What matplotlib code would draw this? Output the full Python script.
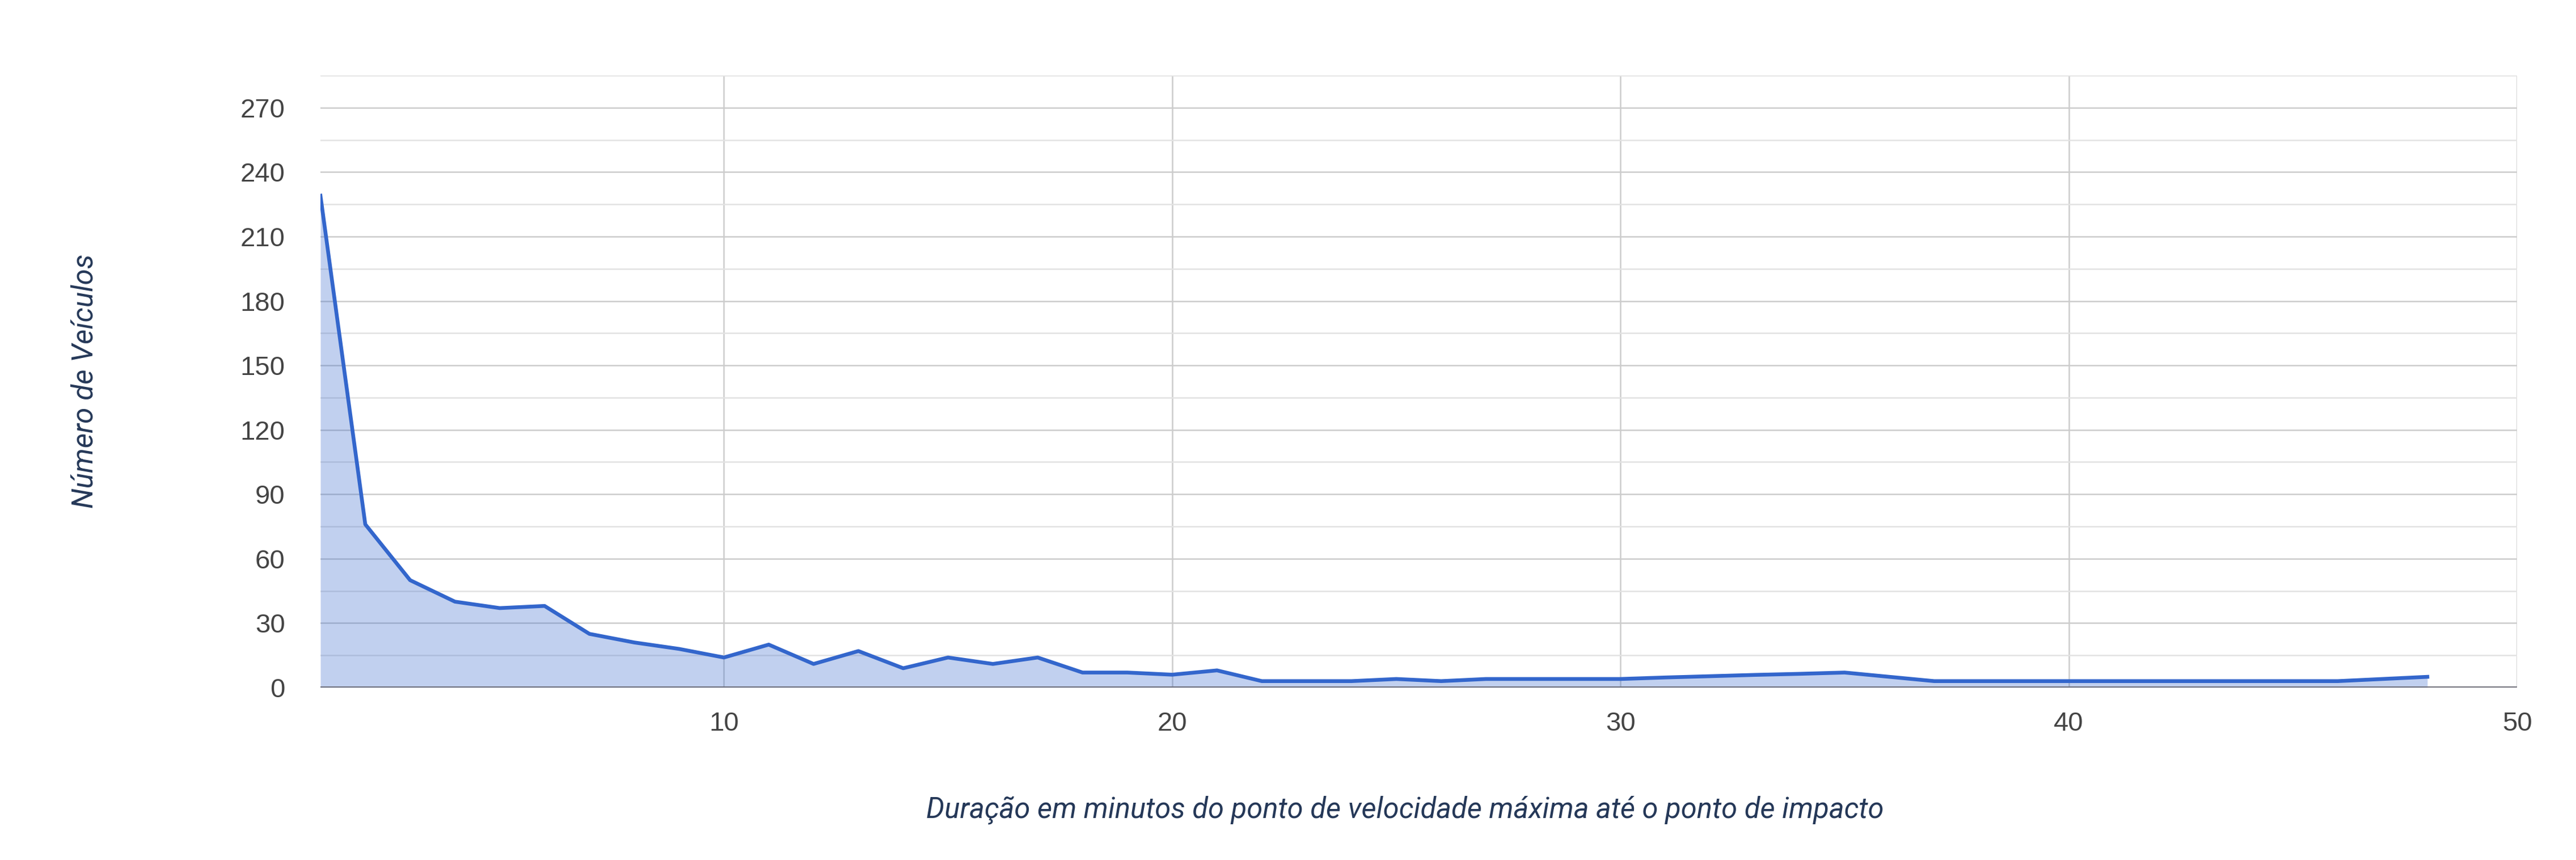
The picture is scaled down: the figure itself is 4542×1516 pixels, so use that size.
import matplotlib.pyplot as plt
from matplotlib.ticker import MultipleLocator

# minutos (1..48) e número de veículos
minutos = list(range(1, 49))
veiculos = [229, 76, 50, 40, 37, 38, 25, 21, 18, 14,
            20, 11, 17, 9, 14, 11, 14, 7, 7, 6,
            8, 3, 3, 3, 4, 3, 4, 4, 4, 4,
            4.7, 5.3, 5.9, 6.4, 7, 5, 3, 3, 3, 3,
            3, 3, 3, 3, 3, 3, 4, 5]

y_ticks = list(range(0, 271, 30))
x_ticks = [10, 20, 30, 40, 50]

titulo_x = 'Duração em minutos do ponto de velocidade máxima até o ponto de impacto'
titulo_y = 'Número de Veículos'

fig = plt.figure(figsize=(45.42, 15.16), dpi=100)
ax = fig.add_axes([0.1244, 0.2005, 0.9771 - 0.1244, 0.9123 - 0.2005])

ax.fill_between(minutos, veiculos, 0, color='#3366cc', alpha=0.3, linewidth=0)
ax.plot(minutos, veiculos, color='#3366cc', linewidth=4.8)

ax.set_xlim(1, 50)
ax.set_ylim(0, 285)
ax.set_xticks(x_ticks)
ax.set_yticks(y_ticks)
ax.yaxis.set_minor_locator(MultipleLocator(15))

ax.grid(which='major', axis='both', color='#cccccc', linewidth=1.8)
ax.grid(which='minor', axis='y', color='#e2e2e2', linewidth=1.8)
ax.set_axisbelow(True)
ax.axhline(0, color='#6f6f78', linewidth=2.8, zorder=3)

for s in ax.spines.values():
    s.set_visible(False)

ax.tick_params(which='both', length=0)
ax.tick_params(axis='y', pad=45)
ax.tick_params(axis='x', pad=30)
for lab in ax.get_xticklabels() + ax.get_yticklabels():
    lab.set_fontfamily('Liberation Sans')
    lab.set_fontsize(34)
    lab.set_color('#444444')

fig.text(0.5455, 0.058, titulo_x, ha='center', va='center', fontsize=36.5,
         style='italic', family='Roboto', color='#253858')
fig.text(0.033, 0.557, titulo_y, ha='center', va='center', fontsize=37,
         style='italic', family='Roboto', color='#253858', rotation=90)

fig.savefig('out.png', dpi=100)
